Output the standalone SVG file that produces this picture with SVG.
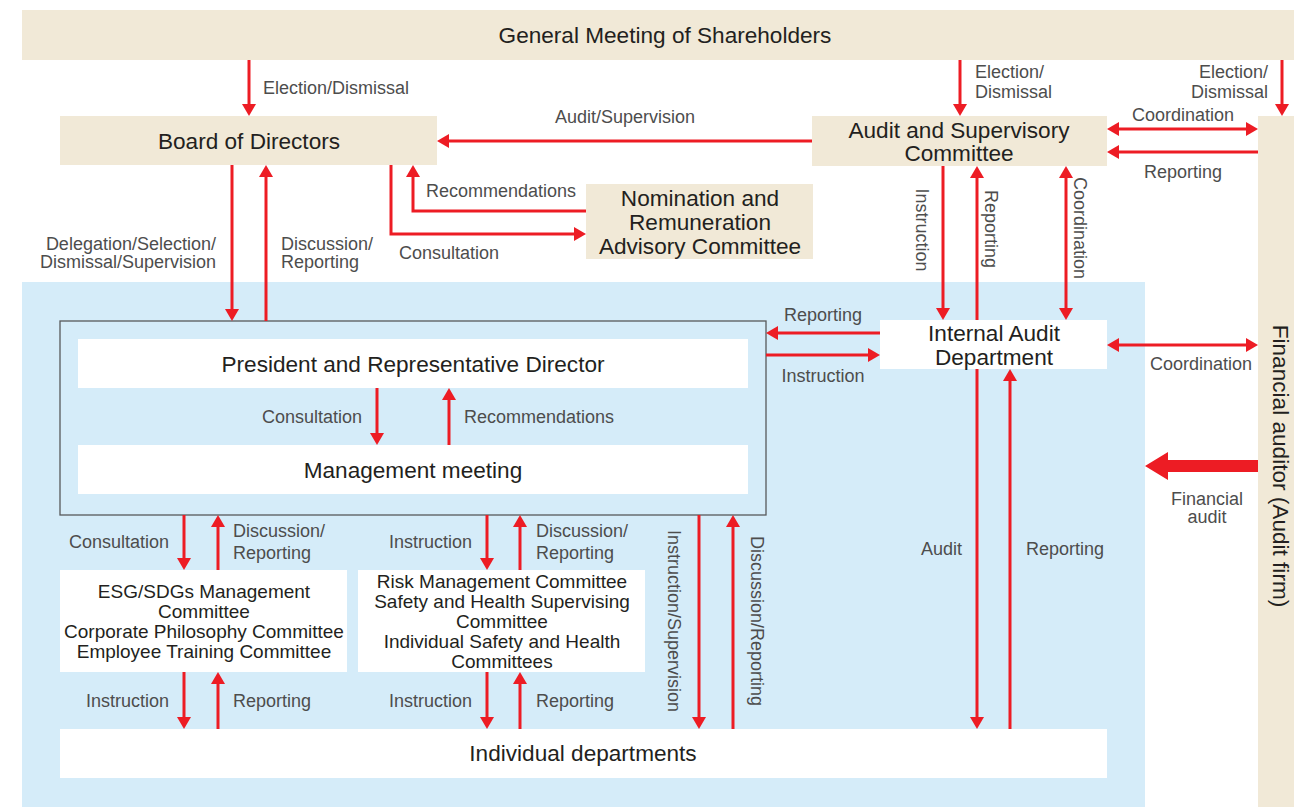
<svg xmlns="http://www.w3.org/2000/svg" width="1294" height="807" viewBox="0 0 1294 807">
<defs>
<style>
.beige{fill:#F1E9D7}
.white{fill:#FFFFFF}
.node{font-family:"Liberation Sans",Arial,sans-serif;font-size:22.6px;fill:#231F20;text-anchor:middle}
.small{font-family:"Liberation Sans",Arial,sans-serif;font-size:19px;fill:#231F20;text-anchor:middle}
.lbl{font-family:"Liberation Sans",Arial,sans-serif;font-size:18px;fill:#4D4D4D}
.mid{text-anchor:middle}
.end{text-anchor:end}
.conn path{fill:none;stroke:#ED1C24;stroke-width:3}
.a{marker-end:url(#ah)}
.d{marker-start:url(#ah);marker-end:url(#ah)}
</style>
<marker id="ah" viewBox="0 0 12 14" refX="6" refY="7" markerWidth="12" markerHeight="14" markerUnits="userSpaceOnUse" orient="auto-start-reverse">
<path d="M0,0 L12,7 L0,14 z" fill="#ED1C24"/>
</marker>
</defs>
<rect width="1294" height="807" fill="#FFFFFF"/>
<rect id="blue-area" x="22" y="282" width="1123" height="525" fill="#D5ECF9"/>

<g id="general-meeting">
<rect class="beige" x="22" y="10" width="1272" height="50"/>
<text class="node" x="665" y="42.5">General Meeting of Shareholders</text>
</g>
<g id="board">
<rect class="beige" x="60" y="116" width="377" height="49"/>
<text class="node" x="249" y="148.5">Board of Directors</text>
</g>
<g id="asc">
<rect class="beige" x="812" y="116" width="295" height="50"/>
<text class="node" x="959" y="137.5">Audit and Supervisory</text>
<text class="node" x="959" y="160.5">Committee</text>
</g>
<g id="financial-auditor">
<rect class="beige" x="1258" y="116" width="36" height="691"/>
<text class="node" transform="translate(1273,466) rotate(90)" x="0" y="0">Financial auditor (Audit firm)</text>
</g>
<g id="nomination">
<rect class="beige" x="586" y="184" width="227" height="75"/>
<text class="node" x="700" y="205.5">Nomination and</text>
<text class="node" x="700" y="229.5">Remuneration</text>
<text class="node" x="700" y="253.5">Advisory Committee</text>
</g>
<g id="executive-group">
<rect x="60" y="321" width="706" height="194" fill="none" stroke="#58595B" stroke-width="1.3"/>
</g>
<g id="president">
<rect class="white" x="78" y="339" width="670" height="49"/>
<text class="node" x="413" y="371.5">President and Representative Director</text>
</g>
<g id="management-meeting">
<rect class="white" x="78" y="445" width="670" height="49"/>
<text class="node" x="413" y="477.5">Management meeting</text>
</g>
<g id="internal-audit">
<rect class="white" x="880" y="320" width="227" height="49"/>
<text class="node" x="994" y="340.5">Internal Audit</text>
<text class="node" x="994" y="364.5">Department</text>
</g>
<g id="esg-committees">
<rect class="white" x="60" y="570" width="287" height="102"/>
<text class="small" x="204" y="597.5">ESG/SDGs Management</text>
<text class="small" x="204" y="617.5">Committee</text>
<text class="small" x="204" y="637.5">Corporate Philosophy Committee</text>
<text class="small" x="204" y="657.5">Employee Training Committee</text>
</g>
<g id="risk-committees">
<rect class="white" x="358" y="570" width="287" height="102"/>
<text class="small" x="502" y="587.5">Risk Management Committee</text>
<text class="small" x="502" y="607.5">Safety and Health Supervising</text>
<text class="small" x="502" y="627.5">Committee</text>
<text class="small" x="502" y="647.5">Individual Safety and Health</text>
<text class="small" x="502" y="667.5">Committees</text>
</g>
<g id="departments">
<rect class="white" x="60" y="729" width="1047" height="49"/>
<text class="node" x="583" y="760.5">Individual departments</text>
</g>

<g id="connectors" class="conn">
<path class="a" d="M249,60 V110"/>
<path class="a" d="M960,60 V110"/>
<path class="a" d="M1282,60 V110"/>
<path class="a" d="M812,141 H443"/>
<path class="d" d="M1113,129 H1252"/>
<path class="a" d="M1258,152 H1113"/>
<path class="a" d="M232,165 V315"/>
<path class="a" d="M266,321 V171"/>
<path class="a" d="M586,211 H413 V171"/>
<path class="a" d="M391,165 V234 H580"/>
<path class="a" d="M943,166 V314"/>
<path class="a" d="M977,320 V172"/>
<path class="d" d="M1066,172 V314"/>
<path class="a" d="M880,333 H772"/>
<path class="a" d="M766,355 H874"/>
<path class="d" d="M1113,345 H1252"/>
<path class="a" d="M377,388 V439"/>
<path class="a" d="M449,445 V394"/>
<path class="a" d="M184,515 V564"/>
<path class="a" d="M218,570 V521"/>
<path class="a" d="M487,515 V564"/>
<path class="a" d="M520,570 V521"/>
<path class="a" d="M699,515 V723"/>
<path class="a" d="M733,729 V521"/>
<path class="a" d="M184,672 V723"/>
<path class="a" d="M218,729 V678"/>
<path class="a" d="M487,672 V723"/>
<path class="a" d="M520,729 V678"/>
<path class="a" d="M977,369 V723"/>
<path class="a" d="M1010,729 V375"/>
<polygon points="1258,460 1168,460 1168,452 1145,466 1168,480 1168,472 1258,472" fill="#ED1C24"/>
</g>

<g id="labels">
<text class="lbl" x="263" y="94">Election/Dismissal</text>
<text class="lbl" x="975" y="78">Election/</text>
<text class="lbl" x="975" y="98">Dismissal</text>
<text class="lbl end" x="1268" y="78">Election/</text>
<text class="lbl end" x="1268" y="98">Dismissal</text>
<text class="lbl mid" x="625" y="123">Audit/Supervision</text>
<text class="lbl mid" x="1183" y="121">Coordination</text>
<text class="lbl mid" x="1183" y="178">Reporting</text>
<text class="lbl" x="426" y="197">Recommendations</text>
<text class="lbl" x="399" y="259">Consultation</text>
<text class="lbl end" x="216" y="250">Delegation/Selection/</text>
<text class="lbl end" x="216" y="268">Dismissal/Supervision</text>
<text class="lbl" x="281" y="250">Discussion/</text>
<text class="lbl" x="281" y="268">Reporting</text>
<text class="lbl mid" transform="translate(916,230) rotate(90)" x="0" y="0">Instruction</text>
<text class="lbl mid" transform="translate(985,229) rotate(90)" x="0" y="0">Reporting</text>
<text class="lbl mid" transform="translate(1074,228) rotate(90)" x="0" y="0">Coordination</text>
<text class="lbl mid" x="823" y="321">Reporting</text>
<text class="lbl mid" x="823" y="382">Instruction</text>
<text class="lbl mid" x="1201" y="370">Coordination</text>
<text class="lbl mid" x="1207" y="505">Financial</text>
<text class="lbl mid" x="1207" y="523">audit</text>
<text class="lbl end" x="362" y="423">Consultation</text>
<text class="lbl" x="464" y="423">Recommendations</text>
<text class="lbl end" x="169" y="548">Consultation</text>
<text class="lbl" x="233" y="537">Discussion/</text>
<text class="lbl" x="233" y="559">Reporting</text>
<text class="lbl end" x="472" y="548">Instruction</text>
<text class="lbl" x="536" y="537">Discussion/</text>
<text class="lbl" x="536" y="559">Reporting</text>
<text class="lbl mid" transform="translate(668,621) rotate(90)" x="0" y="0">Instruction/Supervision</text>
<text class="lbl mid" transform="translate(751,621) rotate(90)" x="0" y="0">Discussion/Reporting</text>
<text class="lbl end" x="169" y="707">Instruction</text>
<text class="lbl" x="233" y="707">Reporting</text>
<text class="lbl end" x="472" y="707">Instruction</text>
<text class="lbl" x="536" y="707">Reporting</text>
<text class="lbl end" x="962" y="555">Audit</text>
<text class="lbl" x="1026" y="555">Reporting</text>
</g>
</svg>
